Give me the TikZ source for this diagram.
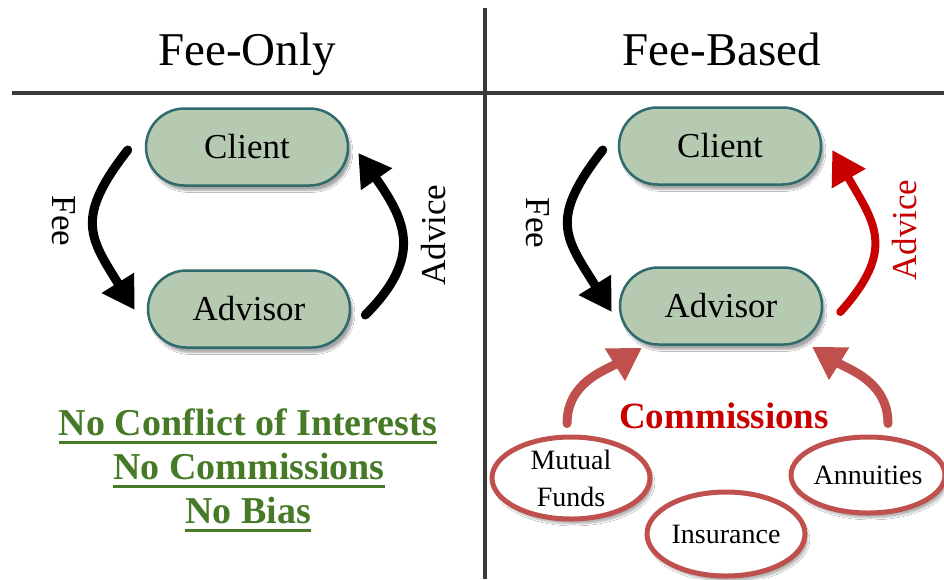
\documentclass[tikz,border=0pt]{standalone}
\usepackage{fontspec}
\setmainfont{Liberation Serif}
\usetikzlibrary{arrows.meta,shadows.blur,shapes.geometric,shapes.misc}
\definecolor{nodefill}{HTML}{B6CAB2}
\definecolor{nodeline}{HTML}{2F6A6C}
\definecolor{comm}{HTML}{C0504D}
\definecolor{advred}{HTML}{C80000}
\definecolor{okgreen}{HTML}{467A26}
\definecolor{rulecol}{HTML}{3A3A3A}
\begin{document}
\begin{tikzpicture}[x=1pt,y=1pt,
  party/.style={rounded rectangle, draw=nodeline, line width=2.5pt, fill=nodefill,
    minimum width=202pt, minimum height=77pt, inner sep=0pt,
    font=\fontsize{35}{40}\selectfont,
    blur shadow={shadow xshift=3pt, shadow yshift=-5pt, shadow blur steps=6, shadow opacity=35}},
  product/.style={ellipse, draw=comm, line width=5pt, fill=white, inner sep=0pt,
    font=\fontsize{28}{37}\selectfont, align=center,
    blur shadow={shadow xshift=3pt, shadow yshift=-5pt, shadow blur steps=6, shadow opacity=30}},
  title/.style={font=\fontsize{47}{52}\selectfont, anchor=base, inner sep=0pt},
  sidelabel/.style={font=\fontsize{35}{40}\selectfont, inner sep=0pt},
  nolabel/.style={font=\fontsize{38}{42}\bfseries\selectfont, text=okgreen, anchor=base, inner sep=0pt},
  blackarrow/.style={line width=9pt, black, line cap=round, -{Triangle[length=32pt,width=36pt]}},
  redarrow/.style={line width=8pt, advred, line cap=round, -{Triangle[length=33pt,width=37pt]}},
  commarrow/.style={line width=9pt, comm, line cap=round, -{Triangle[length=32pt,width=36pt]}},
  divider/.style={line width=4pt, rulecol},
  uline/.style={line width=3pt, okgreen}
]
\useasboundingbox (0,0) rectangle (944,-579);
\fill[white] (0,0) rectangle (944,-579);

% dividers
\coordinate (vtop) at (485,-8);
\coordinate (vbot) at (485,-579);
\coordinate (hleft) at (12,-93);
\coordinate (hright) at (944,-93);
\draw[divider] (vtop) -- (vbot);
\draw[divider] (hleft) -- (hright);

% titles
\node[title] (tOnly) at (247,-65) {Fee-Only};
\node[title] (tBased) at (722,-65) {Fee-Based};

% left panel
\node[party] (clientL) at (247,-147) {Client};
\node[party] (advisorL) at (249,-309) {Advisor};
\node[sidelabel, rotate=-90] (feeL) at (64,-221) {Fee};
\node[sidelabel, rotate=90] (adviceL) at (434,-235) {Advice};
\draw[blackarrow] ([xshift=-17pt,yshift=-3pt]clientL.west) to[out=232, in=122, looseness=1.37] ([xshift=-12pt,yshift=-1pt]advisorL.west);
\draw[blackarrow] ([xshift=14pt,yshift=-6pt]advisorL.east) to[out=45, in=-55, looseness=1.3] ([xshift=9pt,yshift=-6pt]clientL.east);

\node[nolabel] (n1) at (248,-435) {No Conflict of Interests};
\node[nolabel] (n2) at (249,-479) {No Commissions};
\node[nolabel] (n3) at (248,-523) {No Bias};
\foreach \n in {n1,n2,n3}
  \draw[uline] ([yshift=-7pt]\n.base west) -- ([yshift=-7pt]\n.base east);

% right panel
\node[party] (clientR) at (720,-146) {Client};
\node[party] (advisorR) at (721,-306) {Advisor};
\node[sidelabel, rotate=-90] (feeR) at (538,-223) {Fee};
\node[sidelabel, rotate=90, text=advred] (adviceR) at (905,-230) {Advice};
\draw[blackarrow] ([xshift=-15pt,yshift=-4pt]clientR.west) to[out=232, in=122, looseness=1.39] ([xshift=-7pt,yshift=-6pt]advisorR.west);
\draw[redarrow] ([xshift=17pt,yshift=-6pt]advisorR.east) to[out=48, in=-60, looseness=1.33] ([xshift=10pt,yshift=-4pt]clientR.east);

\node[product] (mf) at (571,-478) [minimum width=158pt, minimum height=82pt] {Mutual\\Funds};
\node[product] (ins) at (726,-534) [minimum width=158pt, minimum height=84pt] {Insurance};
\node[product] (ann) at (868,-475) [minimum width=146pt, minimum height=76pt] {Annuities};

\node[font=\fontsize{37}{42}\bfseries\selectfont, text=advred, anchor=base, inner sep=0pt] (commlabel) at (724,-428) {Commissions};

\draw[commarrow] ([xshift=-4pt,yshift=11pt]mf.north) to[out=90, in=212] ([xshift=-79pt,yshift=-2pt]advisorR.south);
\draw[commarrow] ([xshift=20pt,yshift=11pt]ann.north) to[out=90, in=-32] ([xshift=91pt,yshift=-1pt]advisorR.south);
\end{tikzpicture}
\end{document}
